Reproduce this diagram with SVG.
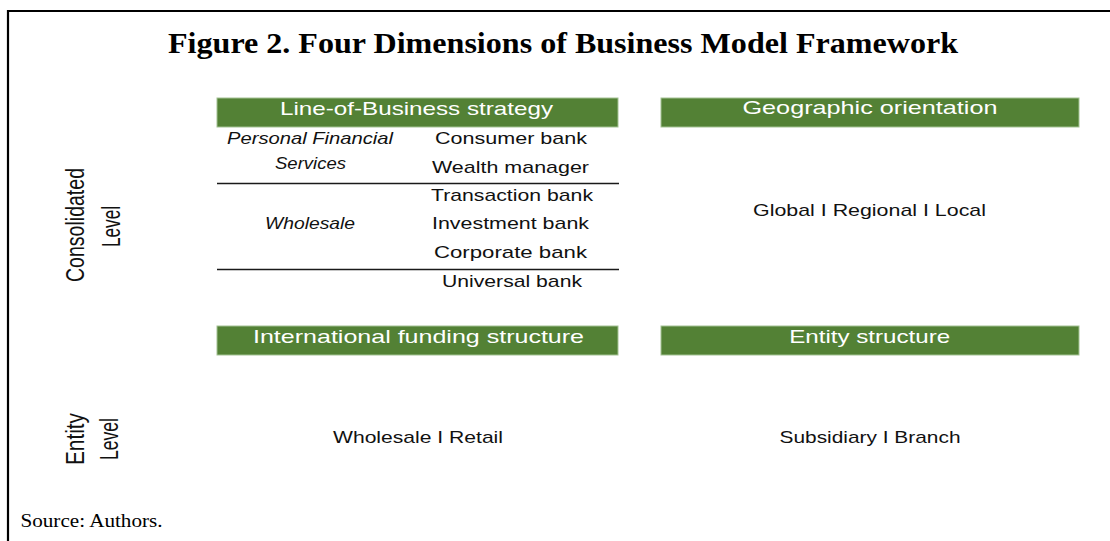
<svg xmlns="http://www.w3.org/2000/svg" width="1110" height="541" viewBox="0 0 1110 541">
<style>
.frame{fill:none;stroke:#000;stroke-width:2.2}
.title{font-family:"Liberation Serif","Times New Roman",serif;font-weight:bold;font-size:30px;fill:#000}
.src{font-family:"Liberation Serif","Times New Roman",serif;font-size:19px;fill:#000}
.hdr{fill:#538135;stroke:#a3c293;stroke-width:1}
.ht{font-family:"Liberation Sans",Arial,sans-serif;font-size:18.5px;fill:#fff;text-anchor:middle}
.bt{font-family:"Liberation Sans",Arial,sans-serif;font-size:17px;fill:#111;text-anchor:middle}
.it{font-style:italic}
.rt{font-family:"Liberation Sans",Arial,sans-serif;font-size:19.5px;fill:#111;text-anchor:middle}
.div{stroke:#1a1a1a;stroke-width:1.6}
</style>
<path class="frame" d="M8,541 V11 H1110"/>
<text class="title" x="168" y="53" textLength="790" lengthAdjust="spacingAndGlyphs">Figure 2. Four Dimensions of Business Model Framework</text>

<g id="level-consolidated">
<text class="rt" transform="translate(83.5,225) scale(1.36,1) rotate(-90)" textLength="114" lengthAdjust="spacingAndGlyphs">Consolidated</text>
<text class="rt" transform="translate(120,226.5) scale(1.36,1) rotate(-90)" textLength="41" lengthAdjust="spacingAndGlyphs">Level</text>
</g>
<g id="level-entity">
<text class="rt" transform="translate(83.5,439) scale(1.36,1) rotate(-90)" textLength="52" lengthAdjust="spacingAndGlyphs">Entity</text>
<text class="rt" transform="translate(117.5,439) scale(1.36,1) rotate(-90)" textLength="42" lengthAdjust="spacingAndGlyphs">Level</text>
</g>

<g id="lob">
<rect class="hdr" x="217" y="98" width="401" height="29"/>
<text class="ht" x="416.5" y="114.5" textLength="273" lengthAdjust="spacingAndGlyphs">Line-of-Business strategy</text>
<text class="bt it" x="310" y="144" textLength="166" lengthAdjust="spacingAndGlyphs">Personal Financial</text>
<text class="bt it" x="310.5" y="168.5" textLength="71" lengthAdjust="spacingAndGlyphs">Services</text>
<text class="bt" x="511" y="144" textLength="152" lengthAdjust="spacingAndGlyphs">Consumer bank</text>
<text class="bt" x="510.5" y="172.5" textLength="157" lengthAdjust="spacingAndGlyphs">Wealth manager</text>
<line class="div" x1="217" y1="183.5" x2="619" y2="183.5"/>
<text class="bt" x="512" y="201" textLength="162" lengthAdjust="spacingAndGlyphs">Transaction bank</text>
<text class="bt it" x="310" y="229" textLength="90" lengthAdjust="spacingAndGlyphs">Wholesale</text>
<text class="bt" x="510.5" y="229.3" textLength="157" lengthAdjust="spacingAndGlyphs">Investment bank</text>
<text class="bt" x="510.5" y="258" textLength="153" lengthAdjust="spacingAndGlyphs">Corporate bank</text>
<line class="div" x1="217" y1="269.5" x2="619" y2="269.5"/>
<text class="bt" x="512" y="286.5" textLength="140" lengthAdjust="spacingAndGlyphs">Universal bank</text>
</g>

<g id="geo">
<rect class="hdr" x="661" y="98" width="418" height="29"/>
<text class="ht" x="870" y="114" textLength="255" lengthAdjust="spacingAndGlyphs">Geographic orientation</text>
<text class="bt" x="869.5" y="215.5" textLength="233" lengthAdjust="spacingAndGlyphs">Global I Regional I Local</text>
</g>

<g id="funding">
<rect class="hdr" x="217" y="326" width="401" height="29"/>
<text class="ht" x="418.5" y="342.5" textLength="331" lengthAdjust="spacingAndGlyphs">International funding structure</text>
<text class="bt" x="418" y="443" textLength="170" lengthAdjust="spacingAndGlyphs">Wholesale I Retail</text>
</g>

<g id="entity">
<rect class="hdr" x="661" y="326" width="418" height="29"/>
<text class="ht" x="869.7" y="342.5" textLength="161" lengthAdjust="spacingAndGlyphs">Entity structure</text>
<text class="bt" x="870" y="443" textLength="181" lengthAdjust="spacingAndGlyphs">Subsidiary I Branch</text>
</g>

<g id="connectors"/>

<text class="src" x="20.5" y="527" textLength="142" lengthAdjust="spacingAndGlyphs">Source: Authors.</text>
</svg>
